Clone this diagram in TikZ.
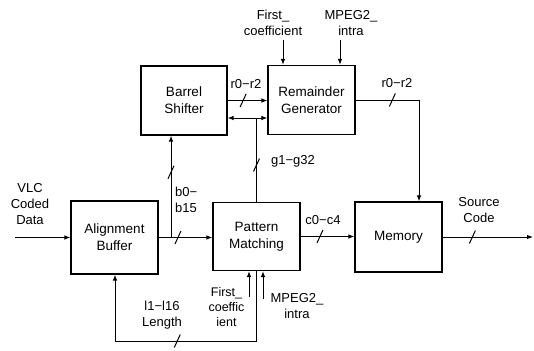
\documentclass[tikz,border=0pt]{standalone}
\usepackage{fontspec}
\setmainfont{Liberation Sans}
\usetikzlibrary{arrows.meta}
\begin{document}
\begin{tikzpicture}[x=1pt,y=-1pt,
  blk/.style={draw,line width=1.1pt,inner sep=0pt,align=center,
    font=\fontsize{13.5}{17}\selectfont},
  lbl/.style={inner sep=0pt,align=center,font=\fontsize{13}{16}\selectfont},
  wire/.style={line width=1pt},
  arr/.style={wire,-{Latex[length=6pt,width=4.5pt]}},
  barr/.style={wire,{Latex[length=6pt,width=4.5pt]}-{Latex[length=6pt,width=4.5pt]}},
  slashmk/.style={line width=1pt}
]
\useasboundingbox (0,0) rectangle (534,350);

% blocks
\node[blk,minimum width=86pt,minimum height=69pt] (BS) at (184,100.5) {Barrel\\Shifter};
\node[blk,minimum width=87pt,minimum height=69pt] (RG) at (311.5,100) {Remainder\\Generator};
\node[blk,minimum width=87pt,minimum height=73pt] (AB) at (114.5,237.5) {Alignment\\Buffer};
\node[blk,minimum width=87pt,minimum height=68pt] (PM) at (256.5,236.5) {Pattern\\Matching};
\node[blk,minimum width=87pt,minimum height=70pt] (MEM) at (398.5,237) {Memory};

% labels
\node[lbl] (vlc) at (30,204) {VLC\\Coded\\Data};
\node[lbl] (fct) at (273,23) {First\_\\coefficient};
\node[lbl] (mpt) at (351,23) {MPEG2\_\\intra};
\node[lbl] (r1) at (246,84) {r0−r2};
\node[lbl] (r2) at (397,83) {r0−r2};
\node[lbl] (g) at (293,161) {g1−g32};
\node[lbl,align=left,anchor=west] (b) at (175,200) {b0−\\b15};
\node[lbl] (c) at (323,220) {c0−c4};
\node[lbl] (src) at (479,210) {Source\\Code};
\node[lbl] (len) at (162,315) {l1−l16\\Length};
\node[lbl,font=\fontsize{12.5}{15}\selectfont] (fcb) at (226.5,307) {First\_\\coeffic\\ient};
\node[lbl] (mpb) at (297,306) {MPEG2\_\\intra};

% coordinates
\coordinate (vin) at (15,237.5);
\coordinate (j1) at (171,237.5);
\coordinate (gj) at (256.5,118);
\coordinate (rc) at (419,100);
\coordinate (fcin) at (283,40);
\coordinate (mpin) at (340,40);
\coordinate (out) at (533,237);
\coordinate (fb1) at (256.5,341);
\coordinate (fb2) at (115,341);
\coordinate (fcbin) at (249,297);
\coordinate (mpbin) at (263,299);

% connectors
\draw[arr] (vin) -- (vin -| AB.west);
\draw[arr] (AB.east) -- coordinate[pos=0.36] (s1) (AB.east -| PM.west);
\draw[arr] (j1) -- coordinate[pos=0.64] (s2) (j1 |- BS.south);
\draw[arr] (BS.east) -- coordinate[pos=0.39] (s3) (BS.east -| RG.west);
\draw[wire] (PM.north) -- coordinate[pos=0.44] (s4) (gj);
\draw[arr] (gj) -- (gj -| BS.east);
\draw[arr] (gj) -- (gj -| RG.west);
\draw[arr] (RG.east) -- coordinate[pos=0.58] (s5) (rc) -- (rc |- MEM.north);
\draw[arr] (fcin) -- (fcin |- RG.north);
\draw[arr] (mpin) -- (mpin |- RG.north);
\draw[arr] (PM.east) -- coordinate[pos=0.36] (s6) (PM.east -| MEM.west);
\draw[arr] (MEM.east) -- coordinate[pos=0.33] (s7) (out);
\draw[arr] (PM.south) -- (fb1) -- coordinate[pos=0.56] (s8) (fb2) -- (fb2 |- AB.south);
\draw[arr] (fcbin) -- (fcbin |- PM.south);
\draw[arr] (mpbin) -- (mpbin |- PM.south);

% bus slashes
\foreach \s in {s1,s2,s3,s4,s5,s6,s7,s8}
  \draw[slashmk] (\s) +(-3,6.5) -- +(3,-6.5);
\end{tikzpicture}
\end{document}
